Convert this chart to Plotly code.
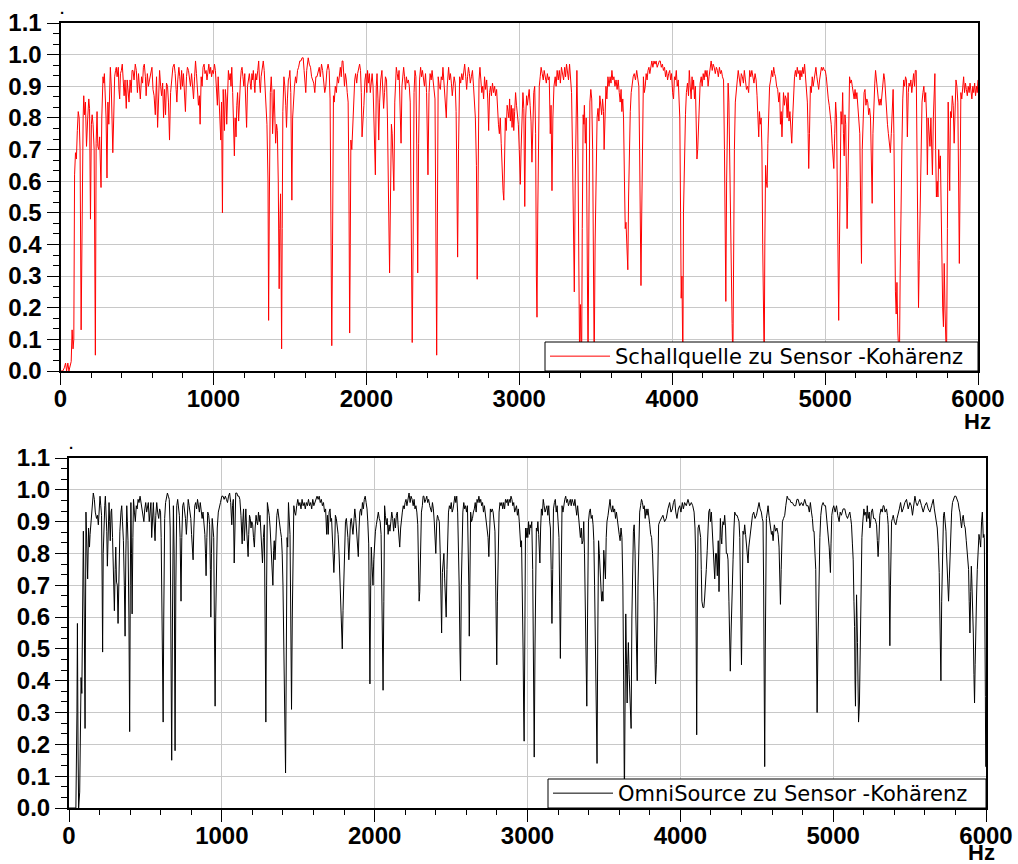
import plotly.graph_objects as go

# ---------------- data ----------------
# Schallquelle zu Sensor - Kohaerenz  (frequency Hz, coherence)
quelle_points = [
(0,0.0),(15,0.0),(25,0.01),(33,0.025),(40,0.0),(48,0.025),(55,0.0),(62,0.02),(70,0.03),(76,0.13),(82,0.07),(87,0.10),
(92,0.62),(98,0.69),(104,0.67),(110,0.76),(116,0.82),(122,0.80),(128,0.70),(135,0.13),(142,0.70),(148,0.80),(152,0.87),
(157,0.81),(163,0.85),(170,0.71),(178,0.80),(185,0.86),(190,0.83),(196,0.48),(202,0.78),(207,0.81),(213,0.78),(220,0.70),
(228,0.05),(233,0.72),(239,0.82),(244,0.71),(250,0.70),(256,0.74),(265,0.58),(270,0.80),(278,0.93),(283,0.91),(287,0.94),
(293,0.88),(298,0.80),(304,0.61),(310,0.85),(316,0.78),(322,0.93),(326,0.96),(332,0.90),(336,0.80),(342,0.69),(348,0.80),
(354,0.93),(360,0.95),(365,0.96),(370,0.93),(378,0.96),(382,0.89),(387,0.86),(392,0.94),(398,0.95),(404,0.97),(410,0.93),
(416,0.87),(422,0.92),(430,0.83),(436,0.92),(442,0.88),(448,0.85),(455,0.92),(462,0.88),(468,0.95),(474,0.95),(481,0.92),
(489,0.97),(496,0.95),(503,0.88),(510,0.94),(516,0.91),(522,0.86),(530,0.93),(537,0.91),(542,0.96),(548,0.97),(555,0.93),
(560,0.87),(568,0.94),(575,0.90),(582,0.92),(590,0.94),(598,0.96),(605,0.89),(612,0.87),(620,0.81),(628,0.93),(635,0.77),
(641,0.89),(648,0.95),(655,0.90),(661,0.87),(668,0.91),(674,0.80),(680,0.89),(687,0.81),(693,0.91),(700,0.90),(706,0.85),
(713,0.73),(720,0.88),(727,0.93),(735,0.96),(743,0.97),(750,0.94),(756,0.89),(761,0.85),(767,0.92),(774,0.96),(780,0.93),
(786,0.89),(792,0.95),(798,0.90),(804,0.94),(810,0.88),(817,0.82),(824,0.93),(830,0.96),(837,0.95),(844,0.93),(850,0.90),
(857,0.94),(864,0.89),(870,0.86),(877,0.93),(883,0.98),(889,0.94),(895,0.90),(902,0.84),(908,0.87),(913,0.78),(920,0.93),
(926,0.90),(932,0.96),(939,0.97),(945,0.94),(952,0.95),(958,0.92),(964,0.96),(970,0.97),(976,0.94),(982,0.96),(988,0.93),
(994,0.95),(1000,0.94),(1007,0.97),(1013,0.95),(1020,0.90),(1026,0.84),(1031,0.93),(1036,0.88),(1043,0.82),(1048,0.73),
(1053,0.85),(1059,0.50),(1064,0.89),(1068,0.84),(1072,0.76),(1078,0.89),(1083,0.86),(1087,0.78),(1092,0.90),(1098,0.95),
(1104,0.92),(1110,0.94),(1115,0.90),(1120,0.96),(1126,0.88),(1131,0.78),(1137,0.68),(1142,0.80),(1148,0.74),(1153,0.84),
(1158,0.88),(1165,0.79),(1171,0.88),(1177,0.92),(1182,0.95),(1187,0.96),(1193,0.93),(1199,0.90),(1205,0.94),(1211,0.86),
(1217,0.77),(1223,0.90),(1229,0.93),(1235,0.94),(1241,0.91),(1246,0.89),(1252,0.94),(1257,0.92),(1261,0.95),(1266,0.91),
(1271,0.88),(1277,0.94),(1283,0.92),(1290,0.95),(1296,0.98),(1302,0.91),(1307,0.88),(1312,0.93),(1318,0.95),(1326,0.98),
(1332,0.95),(1338,0.90),(1344,0.87),(1350,0.78),(1357,0.60),(1361,0.16),(1366,0.55),(1372,0.88),(1378,0.93),(1383,0.88),
(1387,0.75),(1392,0.84),(1397,0.89),(1402,0.80),(1407,0.72),(1413,0.78),(1418,0.76),(1424,0.60),(1430,0.26),(1434,0.45),
(1439,0.56),(1443,0.30),(1446,0.07),(1450,0.45),(1454,0.82),(1461,0.93),(1467,0.90),(1473,0.84),(1478,0.77),(1484,0.86),
(1490,0.92),(1496,0.93),(1500,0.95),(1506,0.88),(1513,0.54),(1518,0.80),(1524,0.88),(1530,0.90),(1537,0.93),(1543,0.91),
(1550,0.95),(1557,0.96),(1565,0.98),(1572,0.98),(1580,0.99),(1587,0.99),(1593,0.95),(1598,0.92),(1604,0.88),(1610,0.95),
(1615,0.98),(1620,0.99),(1627,0.97),(1635,0.96),(1642,0.93),(1649,0.92),(1656,0.91),(1663,0.88),(1670,0.93),(1677,0.93),
(1685,0.95),(1692,0.96),(1699,0.93),(1707,0.97),(1714,0.95),(1721,0.92),(1728,0.88),(1735,0.90),(1742,0.95),(1750,0.97),
(1757,0.95),(1763,0.86),(1768,0.55),(1774,0.08),(1779,0.40),(1785,0.87),(1790,0.85),(1797,0.90),(1804,0.88),(1811,0.93),
(1818,0.91),(1824,0.95),(1830,0.96),(1836,0.93),(1842,0.98),(1847,0.98),(1852,0.93),(1857,0.90),(1863,0.94),(1869,0.92),
(1875,0.88),(1881,0.85),(1886,0.60),(1891,0.12),(1895,0.40),(1899,0.73),(1905,0.70),(1911,0.77),(1918,0.87),(1924,0.92),
(1930,0.94),(1937,0.91),(1943,0.94),(1950,0.96),(1956,0.97),(1962,0.95),(1967,0.88),(1972,0.74),(1978,0.78),(1984,0.84),
(1991,0.92),(1997,0.94),(2003,0.88),(2008,0.95),(2014,0.91),(2020,0.94),(2026,0.88),(2032,0.92),(2038,0.94),(2044,0.90),
(2050,0.80),(2059,0.62),(2065,0.90),(2070,0.94),(2076,0.86),(2081,0.73),(2087,0.85),(2094,0.92),(2102,0.95),(2108,0.90),
(2113,0.83),(2119,0.88),(2125,0.93),(2132,0.92),(2138,0.80),(2145,0.55),(2152,0.31),(2158,0.55),(2164,0.78),(2169,0.75),
(2174,0.65),(2180,0.57),(2186,0.85),(2191,0.94),(2196,0.96),(2202,0.94),(2208,0.92),(2214,0.95),(2221,0.86),(2227,0.72),
(2233,0.90),(2238,0.94),(2244,0.96),(2250,0.93),(2256,0.89),(2262,0.93),(2268,0.91),(2275,0.92),(2281,0.90),(2287,0.85),
(2293,0.50),(2300,0.09),(2306,0.40),(2312,0.88),(2318,0.95),(2324,0.93),(2330,0.70),(2336,0.31),(2342,0.72),(2348,0.92),
(2355,0.96),(2361,0.93),(2367,0.95),(2373,0.92),(2380,0.90),(2387,0.94),(2394,0.88),(2403,0.62),(2410,0.88),(2417,0.94),
(2424,0.92),(2430,0.95),(2437,0.91),(2443,0.90),(2449,0.86),(2454,0.50),(2460,0.05),(2465,0.50),(2470,0.93),(2477,0.90),
(2484,0.89),(2490,0.93),(2496,0.92),(2501,0.96),(2507,0.92),(2513,0.88),(2519,0.84),(2523,0.80),(2529,0.90),(2534,0.94),
(2538,0.96),(2544,0.92),(2550,0.94),(2556,0.91),(2562,0.87),(2568,0.90),(2574,0.93),(2581,0.91),(2587,0.82),(2592,0.60),
(2597,0.36),(2603,0.70),(2610,0.93),(2617,0.91),(2624,0.94),(2631,0.92),(2637,0.95),(2643,0.97),(2650,0.93),(2656,0.89),
(2662,0.93),(2668,0.96),(2674,0.94),(2680,0.91),(2687,0.93),(2694,0.95),(2701,0.90),(2707,0.85),(2713,0.80),(2720,0.65),
(2725,0.29),(2731,0.60),(2737,0.92),(2743,0.96),(2749,0.93),(2755,0.88),(2761,0.90),(2767,0.86),(2773,0.93),(2780,0.89),
(2787,0.92),(2794,0.86),(2800,0.76),(2806,0.88),(2812,0.90),(2818,0.87),(2825,0.91),(2832,0.88),(2839,0.90),(2845,0.87),
(2852,0.89),(2858,0.82),(2864,0.78),(2870,0.75),(2876,0.80),(2882,0.72),(2888,0.60),(2894,0.57),(2899,0.54),(2904,0.72),
(2909,0.80),(2915,0.76),(2921,0.84),(2927,0.82),(2932,0.80),(2937,0.86),(2942,0.79),(2948,0.84),(2953,0.77),(2959,0.83),
(2964,0.76),(2970,0.82),(2976,0.88),(2982,0.84),(2988,0.80),(2994,0.78),(3000,0.70),(3007,0.59),(3012,0.70),(3018,0.85),
(3024,0.88),(3030,0.83),(3036,0.52),(3042,0.80),(3048,0.87),(3053,0.84),(3059,0.88),(3065,0.89),(3071,0.84),(3077,0.79),
(3083,0.66),(3089,0.80),(3095,0.88),(3101,0.90),(3107,0.75),(3112,0.30),(3116,0.17),(3121,0.50),(3126,0.80),(3131,0.90),
(3137,0.93),(3143,0.96),(3150,0.94),(3157,0.92),(3163,0.95),(3170,0.93),(3177,0.91),(3184,0.94),(3190,0.92),(3196,0.93),
(3203,0.75),(3208,0.84),(3214,0.57),(3220,0.80),(3227,0.90),(3235,0.93),(3241,0.90),(3248,0.95),(3255,0.92),(3262,0.95),
(3269,0.91),(3276,0.96),(3283,0.94),(3290,0.92),(3297,0.96),(3303,0.93),(3309,0.97),(3316,0.95),(3322,0.92),(3329,0.97),
(3336,0.93),(3342,0.88),(3348,0.70),(3354,0.40),(3360,0.25),(3366,0.60),(3372,0.90),(3377,0.95),(3382,0.80),(3386,0.50),
(3390,0.20),(3395,0.02),(3400,0.21),(3404,0.10),(3408,0.02),(3412,0.45),(3418,0.81),(3422,0.78),(3426,0.84),(3432,0.72),
(3438,0.80),(3444,0.40),(3450,0.02),(3456,0.50),(3462,0.85),(3468,0.89),(3474,0.86),(3480,0.70),(3485,0.30),(3490,0.02),
(3496,0.40),(3503,0.74),(3509,0.80),(3515,0.83),(3521,0.79),(3527,0.87),(3533,0.84),(3539,0.81),(3545,0.86),(3551,0.82),
(3555,0.70),(3560,0.83),(3567,0.90),(3573,0.86),(3580,0.93),(3587,0.90),(3594,0.93),(3600,0.91),(3606,0.95),(3612,0.92),
(3619,0.93),(3626,0.90),(3633,0.92),(3640,0.89),(3647,0.92),(3654,0.88),(3660,0.85),(3666,0.89),(3671,0.82),(3677,0.86),
(3682,0.80),(3688,0.60),(3693,0.45),(3698,0.47),(3704,0.40),(3710,0.32),(3715,0.55),(3720,0.75),(3726,0.82),(3732,0.88),
(3738,0.91),(3745,0.93),(3752,0.94),(3760,0.92),(3768,0.95),(3775,0.93),(3782,0.90),(3787,0.70),(3792,0.40),(3796,0.27),
(3801,0.50),(3806,0.80),(3812,0.93),(3818,0.88),(3824,0.90),(3830,0.94),(3836,0.92),(3842,0.95),(3848,0.96),(3854,0.94),
(3861,0.97),(3867,0.98),(3874,0.96),(3881,0.98),(3888,0.97),(3895,0.98),(3902,0.96),(3909,0.97),(3916,0.98),(3922,0.98),
(3929,0.96),(3936,0.97),(3943,0.95),(3950,0.96),(3957,0.93),(3963,0.95),(3970,0.92),(3977,0.94),(3984,0.95),(3990,0.92),
(3996,0.94),(4003,0.88),(4009,0.86),(4015,0.93),(4021,0.92),(4027,0.95),(4033,0.90),(4040,0.92),(4046,0.86),(4050,0.80),
(4055,0.50),(4059,0.23),(4064,0.30),(4070,0.02),(4074,0.50),(4080,0.70),(4087,0.81),(4093,0.88),(4100,0.91),(4107,0.87),
(4112,0.95),(4118,0.90),(4124,0.86),(4130,0.93),(4136,0.89),(4140,0.92),(4146,0.86),(4152,0.90),(4157,0.80),(4162,0.67),
(4167,0.70),(4173,0.80),(4178,0.86),(4183,0.91),(4190,0.93),(4196,0.90),(4203,0.94),(4209,0.92),(4216,0.95),(4222,0.93),
(4228,0.95),(4235,0.90),(4241,0.93),(4248,0.96),(4255,0.98),(4262,0.95),(4268,0.97),(4275,0.96),(4282,0.94),(4289,0.96),
(4296,0.95),(4302,0.93),(4309,0.96),(4316,0.94),(4322,0.95),(4329,0.93),(4336,0.92),(4342,0.70),(4347,0.40),(4351,0.22),
(4356,0.60),(4361,0.87),(4366,0.91),(4371,0.85),(4376,0.65),(4382,0.58),(4387,0.40),(4392,0.15),(4397,0.02),(4402,0.40),
(4407,0.70),(4413,0.85),(4419,0.90),(4426,0.92),(4432,0.95),(4439,0.93),(4446,0.90),(4452,0.94),(4459,0.93),(4466,0.91),
(4472,0.95),(4479,0.92),(4486,0.89),(4493,0.90),(4500,0.88),(4507,0.95),(4514,0.93),(4521,0.95),(4528,0.92),(4535,0.91),
(4542,0.94),(4549,0.92),(4555,0.87),(4561,0.82),(4566,0.74),(4571,0.82),(4576,0.78),(4582,0.80),(4587,0.70),(4592,0.40),
(4597,0.10),(4602,0.02),(4606,0.40),(4611,0.65),(4616,0.60),(4621,0.58),(4626,0.72),(4631,0.85),(4637,0.90),(4644,0.92),
(4651,0.95),(4658,0.93),(4664,0.96),(4670,0.94),(4676,0.93),(4683,0.90),(4690,0.89),(4697,0.85),(4703,0.88),(4708,0.78),
(4713,0.82),(4718,0.74),(4723,0.80),(4728,0.88),(4734,0.84),(4740,0.87),(4746,0.86),(4752,0.80),(4758,0.88),(4764,0.79),
(4770,0.82),(4776,0.76),(4782,0.72),(4788,0.80),(4794,0.88),(4800,0.93),(4806,0.95),(4812,0.93),(4818,0.96),(4824,0.94),
(4830,0.95),(4836,0.92),(4842,0.95),(4848,0.93),(4854,0.96),(4860,0.94),(4866,0.97),(4872,0.93),(4878,0.91),(4884,0.85),
(4889,0.75),(4893,0.64),(4898,0.75),(4904,0.90),(4910,0.88),(4916,0.93),(4922,0.90),(4928,0.92),(4934,0.94),(4940,0.96),
(4946,0.93),(4952,0.90),(4958,0.89),(4964,0.92),(4970,0.94),(4976,0.96),(4982,0.95),(4988,0.96),(4995,0.95),(5001,0.95),
(5008,0.93),(5015,0.88),(5021,0.86),(5027,0.84),(5033,0.81),(5040,0.78),(5046,0.72),(5051,0.68),(5057,0.64),(5063,0.75),
(5069,0.85),(5075,0.80),(5080,0.60),(5085,0.30),(5089,0.16),(5094,0.40),(5099,0.75),(5104,0.82),(5110,0.78),(5115,0.88),
(5120,0.75),(5125,0.68),(5130,0.81),(5135,0.78),(5140,0.60),(5144,0.45),(5149,0.58),(5155,0.75),(5160,0.93),(5166,0.91),
(5172,0.92),(5178,0.90),(5184,0.88),(5190,0.86),(5196,0.89),(5202,0.86),(5208,0.88),(5214,0.84),(5221,0.80),(5227,0.75),
(5232,0.55),(5238,0.34),(5243,0.70),(5249,0.85),(5255,0.88),(5261,0.89),(5267,0.84),(5273,0.86),(5279,0.85),(5285,0.81),
(5291,0.83),(5297,0.80),(5302,0.65),(5308,0.53),(5313,0.75),(5319,0.85),(5325,0.91),(5330,0.95),(5336,0.92),(5342,0.87),
(5348,0.86),(5354,0.84),(5360,0.86),(5366,0.84),(5372,0.88),(5378,0.91),(5384,0.94),(5390,0.92),(5396,0.86),(5402,0.82),
(5408,0.78),(5414,0.75),(5420,0.72),(5427,0.69),(5433,0.75),(5439,0.85),(5445,0.89),(5450,0.75),(5455,0.40),(5460,0.25),
(5465,0.18),(5470,0.28),(5476,0.12),(5481,0.05),(5486,0.02),(5491,0.30),(5496,0.55),(5502,0.70),(5508,0.86),(5514,0.92),
(5520,0.90),(5526,0.93),(5532,0.92),(5538,0.74),(5544,0.88),(5549,0.91),(5555,0.90),(5561,0.92),(5567,0.88),(5573,0.93),
(5579,0.94),(5585,0.90),(5590,0.95),(5596,0.95),(5601,0.74),(5606,0.50),(5611,0.20),(5616,0.35),(5622,0.58),(5628,0.70),
(5634,0.85),(5640,0.88),(5646,0.90),(5652,0.85),(5658,0.88),(5664,0.80),(5669,0.62),(5674,0.80),(5680,0.76),(5686,0.71),
(5692,0.80),(5697,0.71),(5702,0.62),(5708,0.80),(5713,0.90),(5718,0.94),(5723,0.70),(5728,0.55),(5733,0.60),(5738,0.55),
(5743,0.70),(5748,0.64),(5754,0.68),(5759,0.50),(5764,0.30),(5769,0.20),(5774,0.14),(5779,0.34),(5784,0.20),(5789,0.14),
(5794,0.02),(5800,0.45),(5805,0.85),(5810,0.70),(5815,0.57),(5820,0.82),(5826,0.80),(5832,0.87),(5838,0.84),(5844,0.72),
(5850,0.88),(5856,0.92),(5862,0.90),(5868,0.85),(5873,0.60),(5878,0.34),(5883,0.60),(5888,0.88),(5894,0.86),(5900,0.91),
(5906,0.93),(5912,0.88),(5918,0.91),(5924,0.89),(5930,0.87),(5936,0.90),(5942,0.88),(5948,0.91),(5954,0.89),(5960,0.86),
(5966,0.90),(5972,0.88),(5978,0.91),(5984,0.87),(5990,0.90),(5995,0.88),(6000,0.92),
]

# OmniSource zu Sensor - Kohaerenz  (frequency Hz, coherence)
omni_points = [
(0,0.0),(20,0.0),(45,0.0),(52,0.30),(55,0.58),(59,0.20),(63,0.0),(70,0.05),(76,0.30),(79,0.41),(84,0.36),(90,0.70),
(94,0.87),(100,0.60),(105,0.25),(111,0.93),(116,0.85),(122,0.72),(128,0.88),(134,0.82),(138,0.86),(145,0.90),(152,0.96),
(159,0.99),(166,0.97),(172,0.93),(180,0.91),(186,0.92),(192,0.89),(198,0.95),(203,0.98),(208,0.95),(213,0.92),(217,0.70),
(220,0.49),(224,0.80),(229,0.90),(234,0.95),(238,0.98),(243,0.92),(247,0.87),(251,0.76),(256,0.88),(262,0.96),(266,0.90),
(270,0.84),(275,0.93),(279,0.94),(285,0.85),(290,0.78),(297,0.62),(302,0.75),(306,0.82),(311,0.71),(316,0.70),(321,0.58),
(327,0.80),(333,0.87),(340,0.93),(345,0.95),(350,0.90),(356,0.84),(362,0.70),(367,0.54),(372,0.80),(378,0.95),(382,0.90),
(386,0.84),(392,0.60),(397,0.24),(401,0.70),(405,0.96),(409,0.80),(413,0.61),(418,0.85),(422,0.97),(428,0.93),(434,0.90),
(440,0.95),(446,0.94),(452,0.97),(458,0.96),(465,0.98),(471,0.96),(478,0.94),(484,0.93),(490,0.90),(496,0.94),(502,0.96),
(508,0.93),(513,0.95),(519,0.96),(525,0.90),(530,0.93),(536,0.96),(541,0.85),(546,0.92),(552,0.96),(557,0.90),(563,0.84),
(568,0.92),(574,0.96),(580,0.93),(587,0.91),(593,0.94),(599,0.93),(603,0.85),(607,0.71),(612,0.45),(616,0.27),(620,0.60),
(626,0.91),(632,0.96),(638,0.98),(644,0.99),(650,0.98),(656,0.97),(662,0.88),(667,0.55),(672,0.15),(677,0.60),(683,0.95),
(688,0.80),(694,0.18),(699,0.70),(705,0.95),(711,0.97),(717,0.95),(722,0.92),(727,0.85),(733,0.65),(738,0.85),(744,0.95),
(750,0.96),(756,0.94),(762,0.91),(768,0.86),(774,0.92),(780,0.97),(786,0.95),(792,0.93),(797,0.91),(802,0.86),(808,0.82),
(812,0.78),(817,0.88),(823,0.95),(829,0.96),(835,0.94),(841,0.97),(847,0.95),(853,0.93),(859,0.96),(865,0.92),(871,0.91),
(877,0.93),(883,0.90),(889,0.86),(893,0.80),(897,0.73),(902,0.85),(908,0.93),(914,0.92),(920,0.89),(925,0.75),(928,0.60),
(932,0.80),(937,0.91),(942,0.88),(947,0.85),(951,0.60),(956,0.32),(960,0.60),(965,0.83),(970,0.88),(977,0.93),(984,0.95),
(991,0.96),(1000,0.98),(1008,0.98),(1015,0.97),(1023,0.98),(1030,0.97),(1037,0.96),(1044,0.98),(1051,0.99),(1058,0.96),
(1065,0.89),(1070,0.95),(1075,0.97),(1081,0.77),(1086,0.93),(1091,0.99),(1098,0.99),(1105,0.98),(1112,0.98),(1118,0.97),
(1125,0.92),(1130,0.88),(1133,0.83),(1137,0.90),(1142,0.94),(1147,0.84),(1152,0.90),(1157,0.94),(1162,0.88),(1167,0.84),
(1172,0.79),(1176,0.86),(1181,0.92),(1186,0.91),(1191,0.88),(1196,0.90),(1202,0.89),(1207,0.85),(1213,0.82),(1218,0.88),
(1224,0.92),(1229,0.90),(1234,0.89),(1240,0.93),(1245,0.90),(1250,0.92),(1255,0.88),(1262,0.80),(1266,0.77),(1272,0.85),
(1278,0.89),(1283,0.60),(1288,0.27),(1293,0.70),(1298,0.96),(1304,0.94),(1310,0.92),(1316,0.88),(1322,0.82),(1328,0.78),
(1334,0.70),(1339,0.81),(1343,0.84),(1348,0.78),(1354,0.88),(1360,0.92),(1366,0.94),(1372,0.91),(1378,0.90),(1384,0.87),
(1390,0.85),(1395,0.80),(1400,0.70),(1406,0.50),(1412,0.25),(1417,0.11),(1422,0.50),(1427,0.85),(1431,0.82),(1436,0.96),
(1441,0.90),(1446,0.86),(1451,0.60),(1456,0.31),(1461,0.60),(1466,0.88),(1471,0.95),(1477,0.93),(1483,0.92),(1490,0.95),
(1497,0.97),(1504,0.95),(1511,0.96),(1518,0.94),(1525,0.97),(1532,0.95),(1539,0.96),(1546,0.94),(1553,0.96),(1560,0.95),
(1567,0.97),(1574,0.95),(1581,0.96),(1588,0.94),(1595,0.97),(1602,0.95),(1609,0.96),(1616,0.97),(1623,0.98),(1630,0.97),
(1637,0.98),(1644,0.96),(1651,0.97),(1658,0.95),(1665,0.96),(1672,0.93),(1679,0.94),(1686,0.86),(1691,0.92),(1696,0.86),
(1702,0.93),(1708,0.94),(1713,0.90),(1718,0.91),(1723,0.85),(1728,0.80),(1733,0.74),(1738,0.80),(1743,0.92),(1749,0.91),
(1755,0.88),(1761,0.86),(1767,0.80),(1772,0.74),(1778,0.65),(1783,0.55),(1788,0.50),(1793,0.62),(1798,0.70),(1803,0.80),
(1809,0.90),(1815,0.91),(1820,0.88),(1825,0.85),(1831,0.78),(1836,0.86),(1842,0.90),(1847,0.91),(1853,0.88),(1858,0.86),
(1864,0.90),(1870,0.94),(1876,0.91),(1881,0.88),(1887,0.84),(1893,0.79),(1898,0.88),(1903,0.93),(1909,0.94),(1914,0.92),
(1920,0.96),(1926,0.94),(1932,0.97),(1938,0.98),(1944,0.96),(1950,0.94),(1955,0.90),(1961,0.83),(1965,0.60),(1969,0.39),
(1974,0.70),(1978,0.82),(1983,0.76),(1989,0.70),(1994,0.78),(1999,0.84),(2005,0.87),(2011,0.89),(2017,0.91),(2024,0.93),
(2030,0.91),(2036,0.90),(2042,0.86),(2047,0.70),(2051,0.50),(2055,0.37),(2060,0.65),(2065,0.95),(2070,0.92),(2076,0.89),
(2082,0.91),(2088,0.86),(2094,0.89),(2100,0.87),(2106,0.90),(2112,0.93),(2118,0.91),(2124,0.87),(2130,0.91),(2136,0.88),
(2142,0.92),(2148,0.93),(2153,0.89),(2158,0.85),(2164,0.82),(2170,0.88),(2175,0.91),(2181,0.93),(2187,0.95),(2193,0.94),
(2199,0.96),(2205,0.97),(2211,0.95),(2217,0.97),(2225,0.99),(2232,0.96),(2238,0.98),(2245,0.97),(2252,0.95),(2258,0.97),
(2264,0.94),(2270,0.95),(2276,0.93),(2282,0.89),(2287,0.80),(2291,0.65),(2295,0.68),(2300,0.85),(2306,0.93),(2312,0.95),
(2317,0.98),(2322,0.98),(2328,0.96),(2335,0.97),(2341,0.98),(2347,0.96),(2353,0.97),(2360,0.95),(2366,0.94),(2372,0.93),
(2378,0.96),(2384,0.94),(2390,0.90),(2396,0.80),(2400,0.80),(2406,0.90),(2411,0.92),(2417,0.91),(2423,0.90),(2429,0.80),
(2434,0.65),(2438,0.55),(2443,0.74),(2448,0.78),(2453,0.80),(2458,0.72),(2463,0.65),(2468,0.60),(2473,0.75),(2478,0.90),
(2483,0.93),(2489,0.95),(2495,0.94),(2501,0.96),(2507,0.93),(2513,0.94),(2519,0.97),(2525,0.98),(2531,0.96),(2537,0.98),
(2543,0.93),(2548,0.85),(2553,0.70),(2558,0.50),(2562,0.40),(2567,0.70),(2572,0.88),(2577,0.93),(2583,0.96),(2589,0.94),
(2595,0.95),(2601,0.93),(2607,0.95),(2612,0.85),(2616,0.70),(2619,0.54),(2623,0.80),(2628,0.93),(2634,0.90),(2640,0.91),
(2646,0.93),(2652,0.94),(2658,0.96),(2664,0.93),(2670,0.97),(2676,0.96),(2682,0.98),(2688,0.96),(2694,0.97),(2700,0.95),
(2706,0.96),(2712,0.93),(2718,0.95),(2724,0.92),(2730,0.89),(2736,0.87),(2742,0.85),(2747,0.79),(2752,0.85),(2757,0.94),
(2763,0.93),(2769,0.94),(2775,0.93),(2781,0.90),(2787,0.87),(2792,0.70),(2796,0.55),(2799,0.45),(2803,0.65),(2808,0.86),
(2814,0.93),(2820,0.96),(2826,0.95),(2832,0.96),(2838,0.94),(2844,0.96),(2850,0.94),(2856,0.97),(2862,0.96),(2868,0.97),
(2874,0.95),(2880,0.97),(2886,0.96),(2892,0.98),(2898,0.97),(2904,0.95),(2910,0.96),(2916,0.93),(2922,0.94),(2928,0.95),
(2934,0.92),(2940,0.94),(2946,0.90),(2952,0.86),(2956,0.82),(2961,0.84),(2966,0.70),(2971,0.50),(2975,0.30),(2978,0.21),
(2982,0.50),(2987,0.88),(2992,0.85),(2997,0.88),(3002,0.85),(3007,0.90),(3012,0.86),(3017,0.89),(3022,0.88),(3028,0.90),
(3034,0.75),(3039,0.40),(3044,0.16),(3049,0.50),(3053,0.85),(3058,0.88),(3063,0.87),(3068,0.90),(3073,0.86),(3078,0.80),
(3081,0.77),(3086,0.88),(3091,0.94),(3097,0.92),(3103,0.97),(3109,0.95),(3115,0.93),(3121,0.94),(3127,0.95),(3133,0.92),
(3139,0.95),(3145,0.90),(3150,0.88),(3155,0.75),(3160,0.58),(3165,0.75),(3170,0.94),(3176,0.96),(3182,0.97),(3188,0.93),
(3194,0.95),(3200,0.90),(3206,0.85),(3211,0.65),(3215,0.47),(3220,0.70),(3226,0.95),(3232,0.93),(3238,0.96),(3244,0.97),
(3250,0.98),(3256,0.96),(3262,0.97),(3268,0.95),(3274,0.96),(3280,0.97),(3286,0.95),(3292,0.97),(3298,0.96),(3304,0.95),
(3310,0.97),(3316,0.93),(3322,0.92),(3328,0.95),(3334,0.92),(3340,0.90),(3346,0.85),(3352,0.88),(3357,0.83),(3363,0.84),
(3368,0.90),(3373,0.80),(3378,0.60),(3383,0.40),(3388,0.32),(3393,0.60),(3399,0.90),(3405,0.93),(3411,0.94),(3417,0.91),
(3423,0.92),(3429,0.89),(3434,0.84),(3439,0.70),(3444,0.45),(3449,0.25),(3455,0.14),(3460,0.55),(3465,0.84),(3470,0.80),
(3475,0.73),(3480,0.70),(3485,0.65),(3490,0.68),(3494,0.65),(3499,0.81),(3505,0.76),(3510,0.72),(3515,0.85),(3520,0.90),
(3527,0.92),(3534,0.95),(3540,0.97),(3546,0.94),(3552,0.93),(3558,0.95),(3564,0.93),(3570,0.94),(3576,0.91),(3582,0.93),
(3588,0.90),(3594,0.87),(3600,0.86),(3606,0.84),(3612,0.88),(3618,0.85),(3624,0.70),(3629,0.40),(3634,0.02),(3638,0.30),
(3643,0.61),(3648,0.45),(3652,0.33),(3656,0.45),(3660,0.52),(3665,0.42),(3670,0.35),(3674,0.30),(3678,0.25),(3683,0.60),
(3688,0.80),(3693,0.87),(3698,0.89),(3704,0.80),(3709,0.60),(3714,0.45),(3718,0.40),(3723,0.70),(3728,0.88),(3734,0.93),
(3740,0.95),(3746,0.97),(3752,0.96),(3758,0.94),(3764,0.95),(3770,0.91),(3776,0.94),(3782,0.92),(3788,0.94),(3794,0.90),
(3800,0.89),(3806,0.86),(3812,0.85),(3818,0.80),(3823,0.75),(3828,0.65),(3833,0.50),(3838,0.39),(3843,0.45),(3848,0.58),
(3853,0.75),(3858,0.89),(3865,0.90),(3876,0.91),(3886,0.92),(3897,0.90),(3908,0.91),(3919,0.94),(3930,0.96),(3939,0.93),
(3948,0.94),(3955,0.96),(3963,0.97),(3970,0.93),(3978,0.91),(3987,0.94),(3996,0.95),(4004,0.93),(4013,0.96),(4020,0.94),
(4028,0.96),(4039,0.95),(4050,0.97),(4061,0.95),(4072,0.96),(4081,0.95),(4090,0.93),(4096,0.88),(4100,0.80),(4104,0.50),
(4107,0.23),(4111,0.60),(4116,0.88),(4122,0.89),(4127,0.86),(4133,0.85),(4137,0.75),(4141,0.65),(4148,0.63),(4154,0.63),
(4159,0.66),(4165,0.70),(4170,0.75),(4176,0.81),(4181,0.86),(4186,0.93),(4192,0.94),(4197,0.90),(4203,0.93),(4209,0.88),
(4214,0.82),(4220,0.76),(4225,0.72),(4231,0.80),(4236,0.80),(4242,0.73),(4248,0.84),(4253,0.68),(4258,0.80),(4262,0.91),
(4267,0.85),(4271,0.83),(4275,0.88),(4279,0.90),(4285,0.89),(4290,0.92),(4296,0.88),(4301,0.80),(4307,0.80),(4312,0.78),
(4318,0.65),(4323,0.53),(4327,0.43),(4332,0.55),(4336,0.66),(4341,0.72),(4345,0.78),(4351,0.88),(4356,0.93),(4364,0.92),
(4371,0.92),(4378,0.91),(4384,0.90),(4389,0.85),(4393,0.70),(4397,0.55),(4400,0.45),(4404,0.60),(4410,0.87),(4416,0.86),
(4421,0.89),(4427,0.86),(4432,0.83),(4437,0.80),(4443,0.77),(4448,0.82),(4454,0.85),(4460,0.88),(4465,0.90),(4472,0.92),
(4480,0.93),(4489,0.91),(4498,0.92),(4506,0.94),(4515,0.96),(4522,0.94),(4530,0.93),(4536,0.91),(4541,0.90),(4545,0.70),
(4549,0.35),(4552,0.13),(4556,0.50),(4560,0.85),(4563,0.91),(4569,0.93),(4574,0.95),(4580,0.92),(4585,0.90),(4590,0.88),
(4596,0.86),(4601,0.87),(4607,0.84),(4615,0.89),(4624,0.87),(4632,0.88),(4640,0.86),(4646,0.82),(4651,0.75),(4655,0.64),
(4660,0.75),(4668,0.90),(4675,0.91),(4683,0.92),(4690,0.95),(4699,0.98),(4707,0.97),(4716,0.97),(4724,0.96),(4733,0.96),
(4744,0.95),(4755,0.95),(4763,0.97),(4771,0.97),(4781,0.95),(4792,0.96),(4803,0.95),(4814,0.97),(4825,0.95),(4836,0.95),
(4844,0.93),(4851,0.96),(4858,0.93),(4864,0.91),(4870,0.87),(4875,0.87),(4881,0.80),(4886,0.75),(4890,0.55),(4895,0.30),
(4900,0.50),(4908,0.74),(4913,0.85),(4919,0.92),(4926,0.95),(4934,0.96),(4942,0.95),(4950,0.95),(4956,0.92),(4963,0.89),
(4968,0.85),(4974,0.82),(4978,0.78),(4982,0.74),(4986,0.83),(4991,0.92),(4997,0.94),(5004,0.95),(5013,0.93),(5022,0.95),
(5030,0.92),(5039,0.90),(5046,0.93),(5054,0.92),(5065,0.94),(5076,0.94),(5085,0.92),(5094,0.91),(5101,0.92),(5109,0.93),
(5115,0.91),(5120,0.89),(5126,0.83),(5131,0.78),(5136,0.65),(5140,0.57),(5143,0.40),(5146,0.32),(5149,0.50),(5153,0.67),
(5156,0.60),(5159,0.52),(5163,0.40),(5166,0.27),(5169,0.30),(5172,0.33),(5176,0.45),(5179,0.60),(5183,0.75),(5188,0.85),
(5194,0.90),(5201,0.94),(5207,0.92),(5214,0.93),(5219,0.90),(5223,0.95),(5229,0.91),(5236,0.93),(5240,0.88),(5244,0.89),
(5250,0.93),(5257,0.94),(5265,0.91),(5273,0.91),(5279,0.90),(5284,0.89),(5289,0.84),(5294,0.79),(5299,0.84),(5305,0.92),
(5313,0.94),(5321,0.93),(5327,0.95),(5332,0.95),(5340,0.93),(5349,0.94),(5355,0.92),(5360,0.89),(5364,0.80),(5368,0.65),
(5371,0.51),(5375,0.70),(5382,0.90),(5388,0.91),(5393,0.92),(5401,0.90),(5410,0.89),(5418,0.91),(5425,0.93),(5433,0.94),
(5441,0.96),(5450,0.93),(5458,0.94),(5469,0.96),(5480,0.97),(5491,0.94),(5502,0.96),(5511,0.95),(5519,0.92),(5527,0.96),
(5535,0.98),(5542,0.96),(5550,0.95),(5558,0.96),(5567,0.97),(5578,0.95),(5589,0.93),(5600,0.95),(5611,0.96),(5622,0.94),
(5633,0.93),(5644,0.95),(5655,0.97),(5662,0.94),(5668,0.92),(5675,0.91),(5681,0.88),(5688,0.82),(5694,0.74),(5700,0.55),
(5705,0.40),(5710,0.65),(5716,0.88),(5722,0.92),(5727,0.93),(5733,0.90),(5738,0.87),(5742,0.80),(5746,0.75),(5751,0.70),
(5755,0.65),(5760,0.72),(5764,0.79),(5770,0.88),(5775,0.93),(5781,0.96),(5786,0.97),(5795,0.98),(5803,0.98),(5810,0.97),
(5818,0.96),(5824,0.94),(5829,0.93),(5835,0.90),(5840,0.88),(5846,0.91),(5851,0.92),(5858,0.89),(5864,0.88),(5871,0.84),
(5877,0.80),(5882,0.77),(5886,0.75),(5890,0.65),(5895,0.55),(5900,0.68),(5904,0.76),(5907,0.72),(5910,0.68),(5914,0.62),
(5917,0.55),(5921,0.42),(5925,0.33),(5929,0.45),(5932,0.55),(5938,0.66),(5943,0.75),(5949,0.82),(5954,0.86),(5960,0.84),
(5965,0.82),(5971,0.90),(5976,0.93),(5980,0.88),(5982,0.85),(5986,0.86),(5989,0.85),(5991,0.75),(5993,0.57),(5996,0.35),
(5998,0.13),(6000,0.13),
]

quelle_hz = [p[0] for p in quelle_points]
quelle_coh = [p[1] for p in quelle_points]
omni_hz = [p[0] for p in omni_points]
omni_coh = [p[1] for p in omni_points]

name_top = "Schallquelle zu Sensor -Kohärenz"
name_bottom = "OmniSource zu Sensor -Kohärenz"
x_ticks = [0, 1000, 2000, 3000, 4000, 5000, 6000]
y_ticks = [round(0.1 * i, 1) for i in range(12)]

# ---------------- figure ----------------
W, H = 1018, 864
def px_x(p):
    return p / W
def px_y(p):
    return 1 - p / H

tickfont = dict(family="Liberation Sans, Arial, sans-serif", size=24, color="black", weight="bold")
hzfont = dict(family="Liberation Sans, Arial, sans-serif", size=22, color="black", weight="bold")
dotfont = dict(family="Liberation Sans, Arial, sans-serif", size=15, color="black", weight="bold")

def xaxis_cfg(dom, anchor):
    return dict(domain=dom, anchor=anchor, range=[0, 6000], tickmode="array", tickvals=x_ticks,
                ticktext=[str(v) for v in x_ticks], automargin=False, ticklabelstandoff=-7,
                showgrid=True, gridcolor="#c8c8c8", gridwidth=1, zeroline=False,
                showline=True, linecolor="black", linewidth=2, mirror=True,
                ticks="outside", ticklen=12, tickwidth=1, tickcolor="black", tickfont=tickfont,
                minor=dict(tick0=0, dtick=200, ticks="outside", ticklen=5, tickwidth=1,
                           tickcolor="black", showgrid=False))

def yaxis_cfg(dom, anchor):
    return dict(domain=dom, anchor=anchor, range=[0, 1.1], tickmode="array", tickvals=y_ticks,
                ticktext=["%.1f" % v for v in y_ticks], automargin=False,
                showgrid=True, gridcolor="#c8c8c8", gridwidth=1, zeroline=False,
                showline=True, linecolor="black", linewidth=2, mirror=True,
                ticks="outside", ticklen=12, tickwidth=1, tickcolor="black", tickfont=tickfont,
                minor=dict(tick0=0, dtick=0.1 / 3, ticks="outside", ticklen=6, tickwidth=1,
                           tickcolor="black", showgrid=False))

fig = go.Figure()
fig.add_trace(go.Scatter(x=quelle_hz, y=quelle_coh, mode="lines", name=name_top, hoverinfo="skip",
                         line=dict(color="#ff0000", width=1), xaxis="x", yaxis="y", legend="legend"))
fig.add_trace(go.Scatter(x=omni_hz, y=omni_coh, mode="lines", name=name_bottom, hoverinfo="skip",
                         line=dict(color="#000000", width=1), xaxis="x2", yaxis="y2", legend="legend2"))

top_x = [px_x(60.5), px_x(978)]
top_y = [px_y(371), px_y(23)]
bot_x = [px_x(69), px_x(986)]
bot_y = [px_y(808), px_y(458)]

# legend boxes (white, black border) drawn over the plot area
top_box = dict(x0=545, x1=978, y0=342, y1=371)
bot_box = dict(x0=548, x1=986, y0=779, y1=808)
shapes = []
for b in (top_box, bot_box):
    shapes.append(dict(type="rect", xref="paper", yref="paper", layer="above",
                       x0=px_x(b["x0"]), x1=px_x(b["x1"]), y0=px_y(b["y1"]), y1=px_y(b["y0"]),
                       fillcolor="white", line=dict(color="black", width=1)))

legend_font = dict(family="DejaVu Sans, Verdana, sans-serif", size=21, color="black")
def legend_cfg(b):
    return dict(x=px_x(b["x0"]), xanchor="left", y=px_y((b["y0"] + b["y1"]) / 2), yanchor="middle",
                xref="paper", yref="paper", bgcolor="rgba(0,0,0,0)", borderwidth=0,
                font=legend_font, itemwidth=60)

fig.update_layout(
    width=W, height=H, autosize=False,
    margin=dict(l=0, r=0, t=0, b=0),
    paper_bgcolor="white", plot_bgcolor="white", hovermode=False,
    xaxis=xaxis_cfg(top_x, "y"), yaxis=yaxis_cfg(top_y, "x"),
    xaxis2=xaxis_cfg(bot_x, "y2"), yaxis2=yaxis_cfg(bot_y, "x2"),
    showlegend=True,
    legend=legend_cfg(top_box),
    legend2=legend_cfg(bot_box),
    shapes=shapes,
    annotations=[
        dict(text="Hz", x=px_x(977), y=px_y(421), xref="paper", yref="paper", showarrow=False,
             xanchor="center", yanchor="middle", font=hzfont),
        dict(text="Hz", x=px_x(981), y=px_y(852), xref="paper", yref="paper", showarrow=False,
             xanchor="center", yanchor="middle", font=hzfont),
        dict(text=".", x=px_x(62), y=px_y(9), xref="paper", yref="paper", showarrow=False,
             xanchor="center", yanchor="middle", font=dotfont),
        dict(text=".", x=px_x(71), y=px_y(443), xref="paper", yref="paper", showarrow=False,
             xanchor="center", yanchor="middle", font=dotfont),
    ],
)

fig.write_html("out.html", config={"displayModeBar": False},
               post_script="document.body.style.margin='0';")
